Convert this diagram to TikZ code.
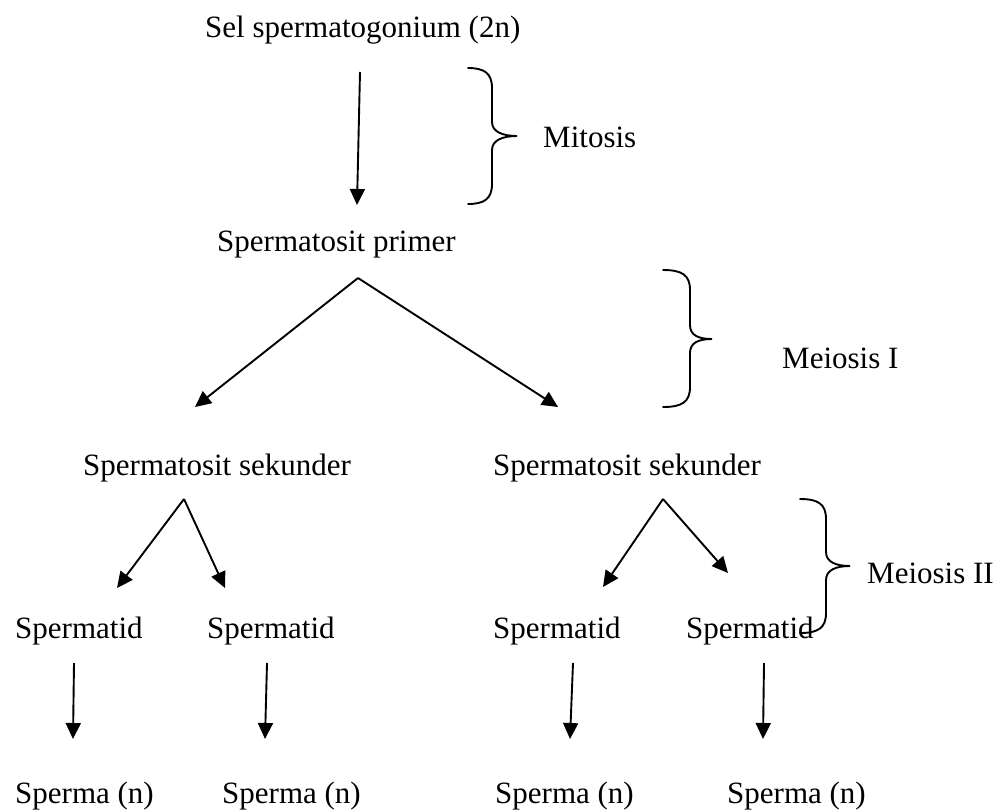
\documentclass[tikz,border=0pt]{standalone}
\usepackage{fontspec}
\setmainfont{Liberation Serif}
\usetikzlibrary{arrows.meta,calc}
\tikzset{
  lbl/.style={anchor=base west, inner sep=0pt, font=\fontsize{31}{37}\selectfont},
  arr/.style={line width=1.9pt, -{Triangle[length=16pt,width=15pt]}},
  brc/.style={line width=1.9pt, line cap=round}
}
\newcommand\bracepath[6]{%
  \draw[brc] (#1,#4) .. controls (#2-8,#4) and (#2,#4+5) .. (#2,#4+20)
    -- (#2,#6-14) .. controls (#2,#6-4) and (#3-14,#6) .. (#3,#6)
    .. controls (#3-14,#6) and (#2,#6+4) .. (#2,#6+14)
    -- (#2,#5-20) .. controls (#2,#5-5) and (#2-8,#5) .. (#1,#5);}
\begin{document}
\begin{tikzpicture}[x=1pt,y=-1pt]
\useasboundingbox (0,0) rectangle (1000,809);
% nodes
\node[lbl] (sg) at (205,37) {Sel spermatogonium (2n)};
\node[lbl] (pp) at (217,251) {Spermatosit primer};
\node[lbl] (s1) at (83,475) {Spermatosit sekunder};
\node[lbl] (s2) at (493,475) {Spermatosit sekunder};
\node[lbl] (t1) at (15,638) {Spermatid};
\node[lbl] (t2) at (207,638) {Spermatid};
\node[lbl] (t3) at (493,638) {Spermatid};
\node[lbl] (t4) at (686,638) {Spermatid};
\node[lbl] (m1) at (15,803) {Sperma (n)};
\node[lbl] (m2) at (222,803) {Sperma (n)};
\node[lbl] (m3) at (495,803) {Sperma (n)};
\node[lbl] (m4) at (727,803) {Sperma (n)};
\node[lbl] (mit) at (543,147) {Mitosis};
\node[lbl] (me1) at (782,368) {Meiosis I};
\node[lbl] (me2) at (867,583) {Meiosis II};
% apex coordinates
\coordinate (ap0) at ($(pp.base west)+(141,27)$);
\coordinate (ap1) at ($(s1.base west)+(101,24)$);
\coordinate (ap2) at ($(s2.base west)+(170,24)$);
% connectors
\draw[arr] ($(sg.base west)+(155,35)$) -- ($(pp.base west)+(140,-46)$);
\draw[arr] (ap0) -- ($(s1.base west)+(112,-68)$);
\draw[arr] (ap0) -- ($(s2.base west)+(65,-68)$);
\draw[arr] (ap1) -- ($(t1.base west)+(102,-50)$);
\draw[arr] (ap1) -- ($(t2.base west)+(18,-50)$);
\draw[arr] (ap2) -- ($(t3.base west)+(110,-51)$);
\draw[arr] (ap2) -- ($(t4.base west)+(42,-65)$);
\draw[arr] ($(t1.base west)+(59,25)$) -- ($(m1.base west)+(58,-64)$);
\draw[arr] ($(t2.base west)+(60,25)$) -- ($(m2.base west)+(43,-64)$);
\draw[arr] ($(t3.base west)+(80,25)$) -- ($(m3.base west)+(75,-64)$);
\draw[arr] ($(t4.base west)+(78,25)$) -- ($(m4.base west)+(36,-64)$);
% braces
\bracepath{468}{492}{517}{68}{204}{136}
\bracepath{663}{690}{712}{270}{407}{339}
\bracepath{800}{826}{850}{499}{633}{566}
\end{tikzpicture}
\end{document}
